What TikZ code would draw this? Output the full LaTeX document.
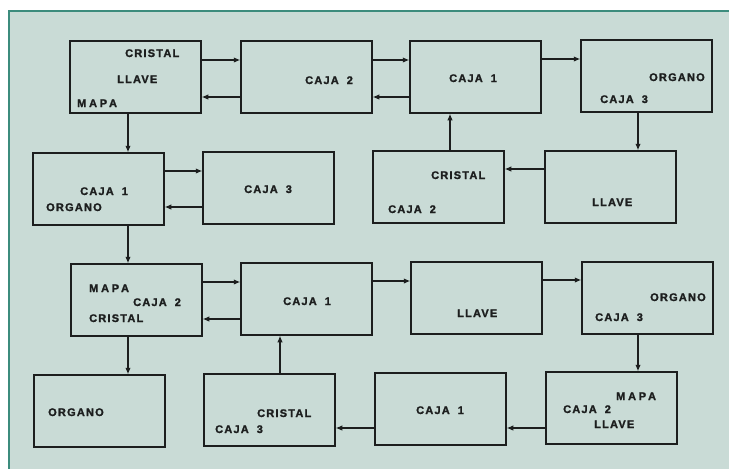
\documentclass[tikz,border=0pt]{standalone}
\usepackage{fontspec}
\newfontfamily\lbl{Liberation Sans Bold}[LetterSpace=11,FakeBold=1.5]
\newfontfamily\lblw{Liberation Sans Bold}[LetterSpace=25,FakeBold=1.5]
\usetikzlibrary{arrows.meta}
\definecolor{panel}{RGB}{201,219,214}
\definecolor{frame}{RGB}{60,140,125}
\definecolor{ink}{RGB}{28,30,30}
\newcommand\cj[1]{CAJA\hspace{8pt}#1}
\begin{document}
\begin{tikzpicture}[x=1pt,y=-1pt,
  box/.style={draw=ink,line width=1.5pt,minimum width=131pt,minimum height=72pt,inner sep=0pt},
  txt/.style={anchor=west,inner sep=0pt,text height=8pt,text depth=0pt,text=ink,font=\lbl\fontsize{11}{13}\selectfont},
  txtw/.style={txt,font=\lblw\fontsize{11}{13}\selectfont},
  arr/.style={draw=ink,line width=1.1pt,-{Latex[length=6.5pt,width=5.5pt]}}]
\useasboundingbox (0,0) rectangle (729,469);
\fill[white] (0,0) rectangle (729,469);
\fill[panel] (8,10) rectangle (729,469);
\draw[frame,line width=2pt] (9,469) -- (9,11) -- (729,11);
% boxes
\node[box] (A) at (135.5,77) {};
\node[box] (B) at (306.5,77) {};
\node[box] (C) at (475.5,77) {};
\node[box] (F) at (646.5,76) {};
\node[box] (D) at (98.5,189) {};
\node[box] (E) at (268.5,188) {};
\node[box] (H) at (438.5,187) {};
\node[box] (G) at (610.5,187) {};
\node[box] (I) at (136.5,300) {};
\node[box] (J) at (306.5,299) {};
\node[box] (M) at (476.5,298) {};
\node[box] (N) at (647.5,298) {};
\node[box] (K) at (99.5,411) {};
\node[box] (L) at (269.5,410) {};
\node[box] (P) at (440.5,409) {};
\node[box] (O) at (611.5,408) {};
% texts
\node[txt] (a1) at (125,53) {CRISTAL};
\node[txt] (a2) at (117,79) {LLAVE};
\node[txtw] (a3) at (77,103) {MAPA};
\node[txt] (b1) at (305,80) {\cj{2}};
\node[txt] (c1) at (449,78) {\cj{1}};
\node[txt] (f1) at (649,77) {ORGANO};
\node[txt] (f2) at (600,99) {\cj{3}};
\node[txt] (d1) at (80,191) {\cj{1}};
\node[txt] (d2) at (46,207) {ORGANO};
\node[txt] (e1) at (244,189) {\cj{3}};
\node[txt] (h1) at (431,175) {CRISTAL};
\node[txt] (h2) at (388,209) {\cj{2}};
\node[txt] (g1) at (592,202) {LLAVE};
\node[txtw] (i1) at (89,288) {MAPA};
\node[txt] (i2) at (133,302) {\cj{2}};
\node[txt] (i3) at (89,318) {CRISTAL};
\node[txt] (j1) at (283,301) {\cj{1}};
\node[txt] (m1) at (457,313) {LLAVE};
\node[txt] (n1) at (650,297) {ORGANO};
\node[txt] (n2) at (595,317) {\cj{3}};
\node[txt] (k1) at (48,412) {ORGANO};
\node[txt] (l1) at (257,413) {CRISTAL};
\node[txt] (l2) at (215,429) {\cj{3}};
\node[txt] (p1) at (416,410) {\cj{1}};
\node[txtw] (o1) at (616,396) {MAPA};
\node[txt] (o2) at (563,409) {\cj{2}};
\node[txt] (o3) at (594,424) {LLAVE};
% connectors
\draw[arr] (A.east |- 0,60) -- (B.west |- 0,60);
\draw[arr] (B.west |- 0,97) -- (A.east |- 0,97);
\draw[arr] (B.east |- 0,60) -- (C.west |- 0,60);
\draw[arr] (C.west |- 0,97) -- (B.east |- 0,97);
\draw[arr] (C.east |- 0,59) -- (F.west |- 0,59);
\draw[arr] (F.south -| 638,0) -- (G.north -| 638,0);
\draw[arr] (G.west |- 0,169) -- (H.east |- 0,169);
\draw[arr] (H.north -| 450,0) -- (C.south -| 450,0);
\draw[arr] (A.south -| 128,0) -- (D.north -| 128,0);
\draw[arr] (D.east |- 0,171) -- (E.west |- 0,171);
\draw[arr] (E.west |- 0,207) -- (D.east |- 0,207);
\draw[arr] (D.south -| 128,0) -- (I.north -| 128,0);
\draw[arr] (I.east |- 0,282) -- (J.west |- 0,282);
\draw[arr] (J.west |- 0,319) -- (I.east |- 0,319);
\draw[arr] (J.east |- 0,281) -- (M.west |- 0,281);
\draw[arr] (M.east |- 0,280) -- (N.west |- 0,280);
\draw[arr] (N.south -| 638,0) -- (O.north -| 638,0);
\draw[arr] (O.west |- 0,428) -- (P.east |- 0,428);
\draw[arr] (P.west |- 0,428) -- (L.east |- 0,428);
\draw[arr] (L.north -| 280,0) -- (J.south -| 280,0);
\draw[arr] (I.south -| 128,0) -- (K.north -| 128,0);
\end{tikzpicture}
\end{document}
